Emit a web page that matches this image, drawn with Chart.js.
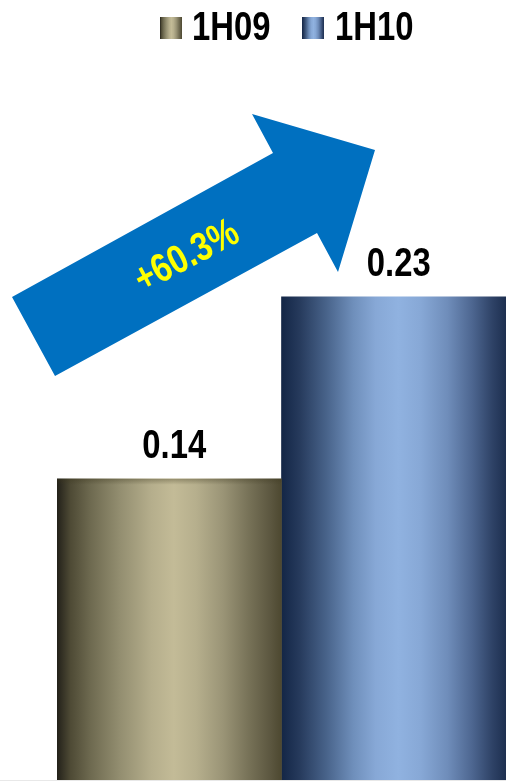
<!DOCTYPE html>
<html>
<head>
<meta charset="utf-8">
<script src="https://cdn.jsdelivr.net/npm/chart.js@4/dist/chart.umd.min.js"></script>
<style>
  html, body { margin: 0; padding: 0; background: #ffffff; }
  #wrap { width: 506px; height: 781px; position: relative; }
</style>
</head>
<body>
<div id="wrap"><canvas id="c" width="506" height="781"></canvas></div>
<script>
// ---- data ----
const categories = [''];
const seriesNames = ['1H09', '1H10'];
const values1H09 = [0.144];
const values1H10 = [0.231];
const valueLabels = ['0.14', '0.23'];
const growthLabel = '+60.3%';

// ---- styling helpers ----
const FONT = "'Liberation Sans', Arial, sans-serif";
const NARROW_SCALE = 0.82;
const khakiStops = [
  [0.00, '#23211a'], [0.06, '#4e4a35'], [0.15, '#6e6a50'], [0.28, '#938e70'],
  [0.42, '#b5ae8c'], [0.52, '#c3bb97'], [0.62, '#b6af8d'], [0.74, '#9a9476'],
  [0.86, '#757056'], [0.95, '#5c5740'], [1.00, '#4d4830']
];
const blueStops = [
  [0.00, '#132646'], [0.08, '#263a5c'], [0.20, '#48638a'], [0.32, '#6f8fbb'],
  [0.42, '#87a8d6'], [0.52, '#90b2e0'], [0.62, '#87a8d6'], [0.74, '#6f8dba'],
  [0.85, '#4d6690'], [0.94, '#2e4266'], [1.00, '#1d2f50']
];
function makeGrad(ctx, x0, x1, stops) {
  const g = ctx.createLinearGradient(x0, 0, x1, 0);
  stops.forEach(s => g.addColorStop(s[0], s[1]));
  return g;
}
function barFill(stops) {
  return function (context) {
    const chart = context.chart;
    const area = chart.chartArea;
    if (!area) return stops[5][1];
    const half = (area.right - area.left) / 2;
    const x0 = area.left + context.datasetIndex * half;
    return makeGrad(chart.ctx, x0, x0 + half, stops);
  };
}
function narrowText(ctx, text, x, y, align) {
  ctx.save();
  ctx.translate(x, y);
  ctx.scale(NARROW_SCALE, 1);
  ctx.textAlign = align;
  ctx.fillText(text, 0, 0);
  ctx.restore();
}

// ---- plugins ----
const decorPlugin = {
  id: 'decor',
  afterDatasetsDraw(chart) {
    const ctx = chart.ctx;
    ctx.save();
    // slight darker band at top of first bar
    const m0 = chart.getDatasetMeta(0);
    m0.data.forEach((el) => {
      const g = ctx.createLinearGradient(0, el.y, 0, el.y + 6);
      g.addColorStop(0, 'rgba(60,55,30,0.35)');
      g.addColorStop(1, 'rgba(60,55,30,0)');
      ctx.fillStyle = g;
      ctx.fillRect(el.x - el.width / 2, el.y, el.width, 6);
    });
    // value labels
    ctx.fillStyle = '#000000';
    ctx.font = 'bold 40px ' + FONT;
    ctx.textBaseline = 'alphabetic';
    chart.data.datasets.forEach((ds, di) => {
      const meta = chart.getDatasetMeta(di);
      meta.data.forEach((el) => {
        narrowText(ctx, valueLabels[di], el.x + 5, el.y - 21, 'center');
      });
    });
    // growth arrow annotation
    ctx.beginPath();
    const pts = [[12, 297], [273, 153], [252, 114], [375, 150], [338, 272], [317, 233], [55, 376]];
    ctx.moveTo(pts[0][0], pts[0][1]);
    for (let i = 1; i < pts.length; i++) ctx.lineTo(pts[i][0], pts[i][1]);
    ctx.closePath();
    ctx.fillStyle = '#0070C0';
    ctx.fill();
    ctx.translate(187, 257);
    ctx.rotate(-28 * Math.PI / 180);
    ctx.fillStyle = '#FFFF00';
    ctx.font = 'bold 40px ' + FONT;
    ctx.textBaseline = 'middle';
    narrowText(ctx, growthLabel, 0, 0, 'center');
    ctx.restore();
    // bottom hairline
    ctx.save();
    ctx.fillStyle = '#e8e8e8';
    ctx.fillRect(0, chart.height - 1, chart.width, 1);
    ctx.restore();
  },
  afterDraw(chart) {
    // legend
    const ctx = chart.ctx;
    ctx.save();
    const items = [
      { box: 160, text: 192, stops: khakiStops },
      { box: 302, text: 335, stops: blueStops }
    ];
    items.forEach((it, i) => {
      ctx.fillStyle = makeGrad(ctx, it.box, it.box + 22, it.stops);
      ctx.fillRect(it.box, 17, 22, 22);
      ctx.fillStyle = '#000000';
      ctx.font = 'bold 40px ' + FONT;
      ctx.textBaseline = 'alphabetic';
      narrowText(ctx, chart.data.datasets[i].label, it.text, 40, 'left');
    });
    ctx.restore();
  }
};

new Chart(document.getElementById('c'), {
  type: 'bar',
  data: {
    labels: categories,
    datasets: [
      { label: seriesNames[0], data: values1H09, backgroundColor: barFill(khakiStops), borderWidth: 0 },
      { label: seriesNames[1], data: values1H10, backgroundColor: barFill(blueStops), borderWidth: 0 }
    ]
  },
  options: {
    responsive: false,
    animation: false,
    devicePixelRatio: 1,
    layout: { padding: { left: 57, right: 0, top: 48, bottom: 1 } },
    datasets: { bar: { categoryPercentage: 1.0, barPercentage: 1.0 } },
    scales: {
      x: { display: false },
      y: { display: false, min: 0, max: 0.35 }
    },
    plugins: {
      legend: { display: false },
      tooltip: { enabled: false }
    }
  },
  plugins: [decorPlugin]
});
</script>
</body>
</html>
